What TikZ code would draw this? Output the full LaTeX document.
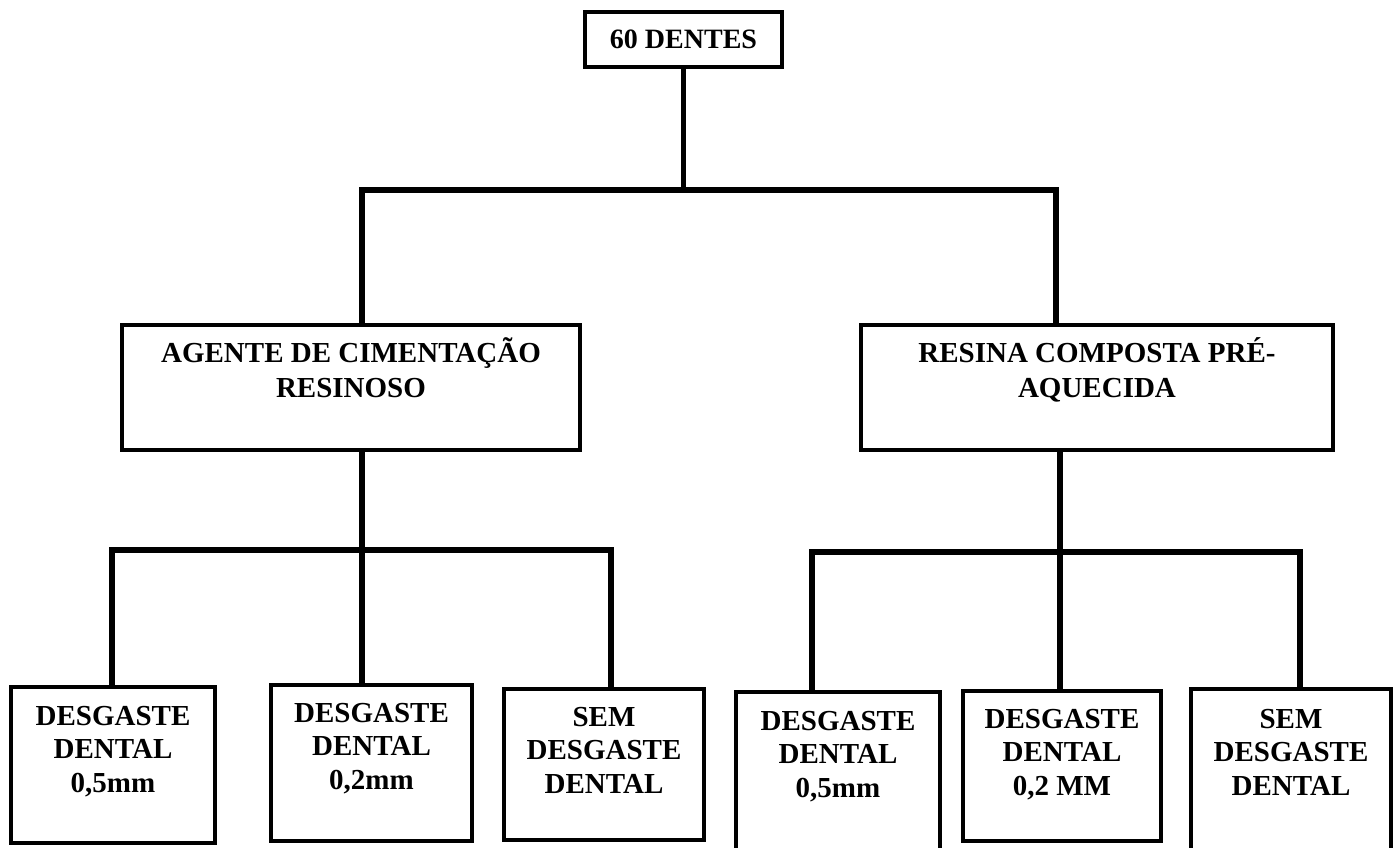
\documentclass[tikz,border=0pt]{standalone}
\usepackage{fontspec}
\setmainfont{Liberation Serif}
\tikzset{
  card/.style={draw, line width=4pt, inner sep=0pt},
  cardtext/.style={font=\fontsize{29}{33.5}\selectfont\bfseries, align=center,
    inner sep=0pt, anchor=base, yshift=-#1},
  link/.style={line width=5.5pt},
}
\begin{document}
\begin{tikzpicture}[x=1pt,y=-1pt]
\useasboundingbox (0,0) rectangle (1395,848);
\clip (0,0) rectangle (1395,848);
% top box
\node[card, minimum width=197pt, minimum height=55pt,
  font=\fontsize{28}{34}\selectfont\bfseries] (dentes) at (683.5,39.5) {60 DENTES};
% groups
\node[card, minimum width=458pt, minimum height=125pt,
  label={[cardtext=74pt, font=\fontsize{29}{35}\selectfont\bfseries]north:{AGENTE DE CIMENTAÇÃO\\RESINOSO}}] (agente) at (351,387.5) {};
\node[card, minimum width=472pt, minimum height=125pt,
  label={[cardtext=74pt, font=\fontsize{29}{35}\selectfont\bfseries]north:{RESINA COMPOSTA PRÉ-\\AQUECIDA}}] (resina) at (1097,387.5) {};
% leaves
\node[card, minimum width=204pt, minimum height=156pt,
  label={[cardtext=107pt]north:{DESGASTE\\DENTAL\\0,5mm}}] (b1) at (113,765) {};
\node[card, minimum width=201pt, minimum height=156pt,
  label={[cardtext=106pt]north:{DESGASTE\\DENTAL\\0,2mm}}] (b2) at (371.5,763) {};
\node[card, minimum width=200pt, minimum height=151pt,
  label={[cardtext=106pt]north:{SEM\\DESGASTE\\DENTAL}}] (b3) at (604,764.5) {};
\node[card, minimum width=204pt, minimum height=166pt,
  label={[cardtext=107pt]north:{DESGASTE\\DENTAL\\0,5mm}}] (b4) at (838,775) {};
\node[card, minimum width=198pt, minimum height=150pt,
  label={[cardtext=106pt]north:{DESGASTE\\DENTAL\\0,2 MM}}] (b5) at (1062,766) {};
\node[card, minimum width=200pt, minimum height=169pt,
  label={[cardtext=108pt]north:{SEM\\DESGASTE\\DENTAL}}] (b6) at (1291,773.5) {};
% connectors
\coordinate (lhub) at (362,190);
\coordinate (rhub) at (1056,190);
\draw[link] (dentes.south) -- (dentes.south |- lhub);
\draw[link] (lhub |- agente.north) -- (lhub) -- (rhub) -- (rhub |- resina.north);
\coordinate (lleft) at (112,550);
\coordinate (lright) at (611,550);
\draw[link] (lhub |- agente.south) -- (lhub |- b2.north);
\draw[link] (lleft |- b1.north) -- (lleft) -- (lright) -- (lright |- b3.north);
\coordinate (rstem) at (1060,552);
\coordinate (rleft) at (812,552);
\coordinate (rright) at (1300,552);
\draw[link] (rstem |- resina.south) -- (rstem |- b5.north);
\draw[link] (rleft |- b4.north) -- (rleft) -- (rright) -- (rright |- b6.north);
\end{tikzpicture}
\end{document}
